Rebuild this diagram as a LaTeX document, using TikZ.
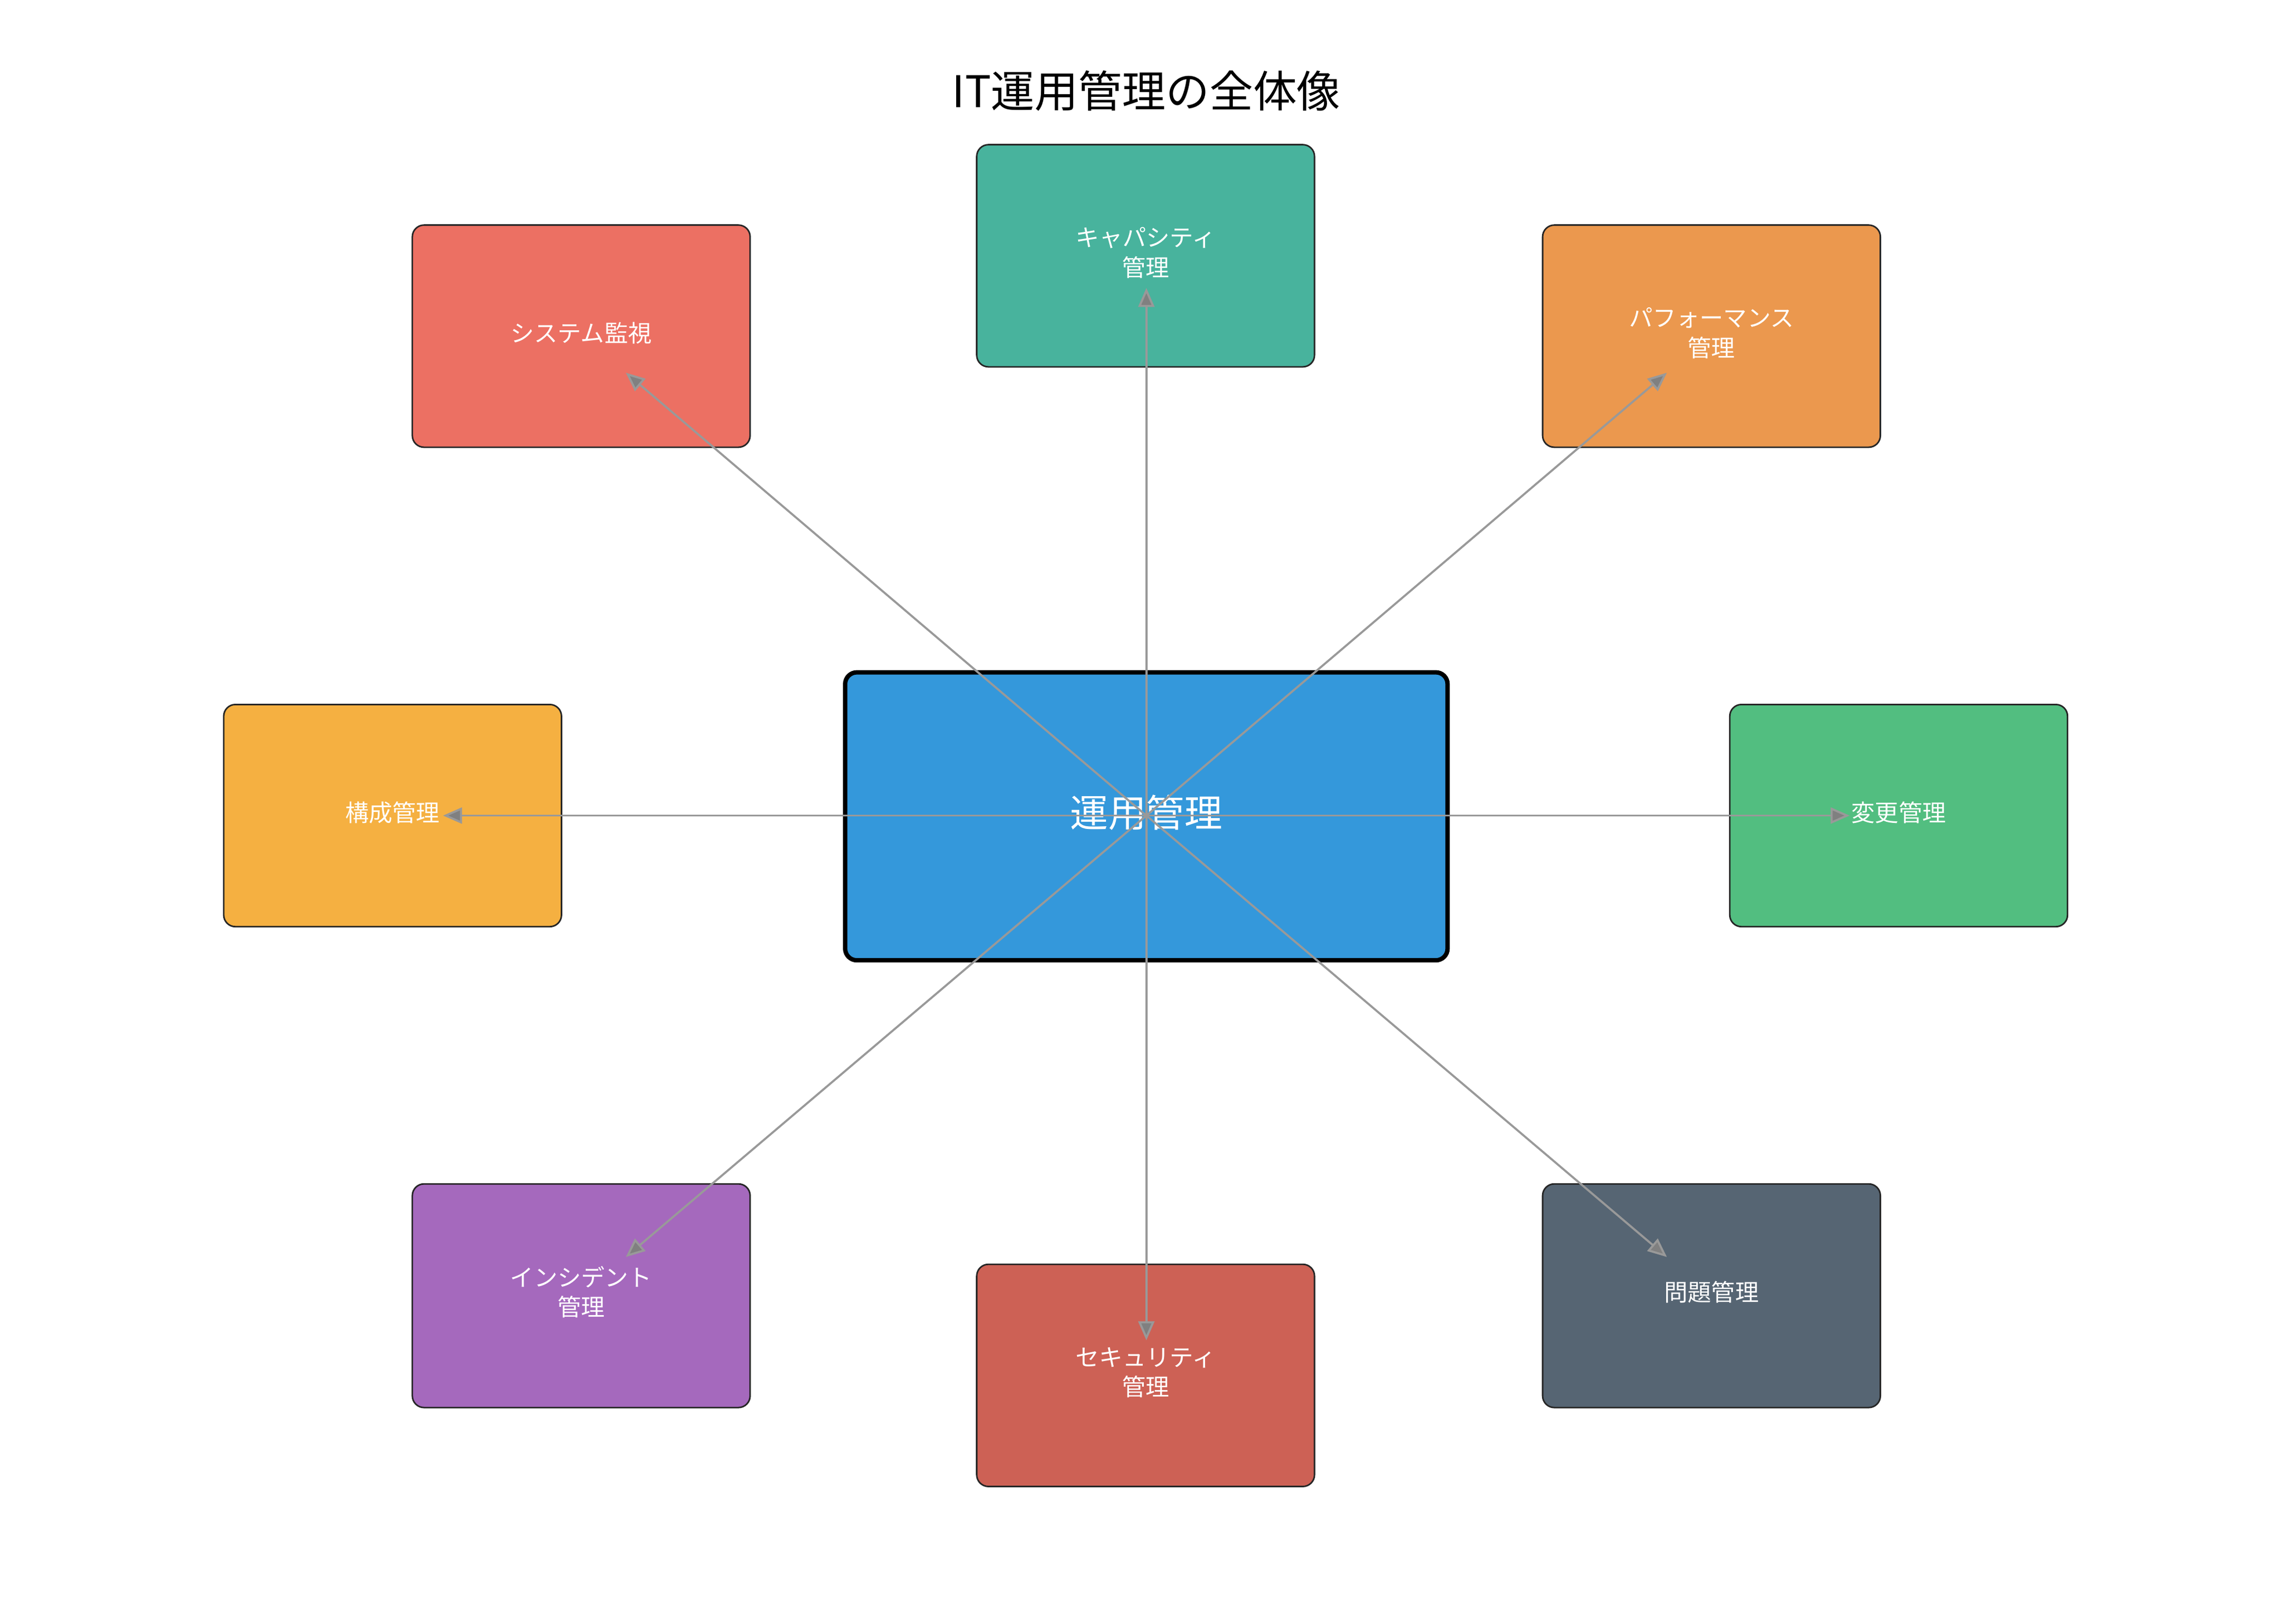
\documentclass[tikz,border=0pt]{standalone}
\usepackage{fontspec}
\setmainfont{Noto Sans CJK JP}
\usetikzlibrary{arrows.meta}
\definecolor{cA}{HTML}{EC7063}
\definecolor{cB}{HTML}{48B39D}
\definecolor{cC}{HTML}{EB984E}
\definecolor{cD}{HTML}{F5B041}
\definecolor{cE}{HTML}{52BE80}
\definecolor{cF}{HTML}{A569BD}
\definecolor{cG}{HTML}{CD6155}
\definecolor{cH}{HTML}{566573}
\definecolor{cM}{HTML}{3498DB}
\tikzset{
 box/.style={draw=black!85,line width=0.3pt,rounded corners=0.8mm,text=white,font=\fontsize{4.6pt}{5.8pt}\selectfont,align=center},
 conn/.style={draw=black!40,line width=0.4pt,-{Triangle[length=1.3mm,width=1.1mm,fill=black!50]}}
}
\begin{document}
\begin{tikzpicture}[x=0.1mm,y=-0.1mm]
\useasboundingbox (0,0) rectangle (1560,1111);
\node[font=\fontsize{8.5pt}{10pt}\selectfont] (title) at (784,62) {IT運用管理の全体像};
\draw[box,fill=cM,draw=black,line width=0.85pt] (578,460) rectangle (990,657);
\node[text=white,font=\fontsize{7.4pt}{9pt}\selectfont] (main) at (784,556) {運用管理};
\draw[box,fill=cA] (282,154) rectangle (513,306); \node[box,draw=none] (a) at (397.5,228) {システム監視};
\draw[box,fill=cB] (668,99) rectangle (899,251); \node[box,draw=none] (b) at (783.5,173) {キャパシティ\\管理};
\draw[box,fill=cC] (1055,154) rectangle (1286,306); \node[box,draw=none] (c) at (1170.5,228) {パフォーマンス\\管理};
\draw[box,fill=cD] (153,482) rectangle (384,634); \node[box,draw=none] (d) at (268.5,556) {構成管理};
\draw[box,fill=cE] (1183,482) rectangle (1414,634); \node[box,draw=none] (e) at (1298.5,556) {変更管理};
\draw[box,fill=cF] (282,810) rectangle (513,963); \node[box,draw=none] (f) at (397.5,884) {インシデント\\管理};
\draw[box,fill=cG] (668,865) rectangle (899,1017); \node[box,draw=none] (g) at (783.5,939) {セキュリティ\\管理};
\draw[box,fill=cH] (1055,810) rectangle (1286,963); \node[box,draw=none] (h) at (1170.5,884) {問題管理};
\coordinate (o) at (784,558);
\coordinate (ta) at (428,255); \coordinate (tb) at (784,197); \coordinate (tc) at (1140,255);
\coordinate (td) at (303,558); \coordinate (te) at (1265,558); \coordinate (tf) at (428,860);
\coordinate (tg) at (784,917); \coordinate (th) at (1140,860);
\foreach \t in {ta,tb,tc,td,te,tf,tg,th} \draw[conn] (o) -- (\t);
\end{tikzpicture}
\end{document}
